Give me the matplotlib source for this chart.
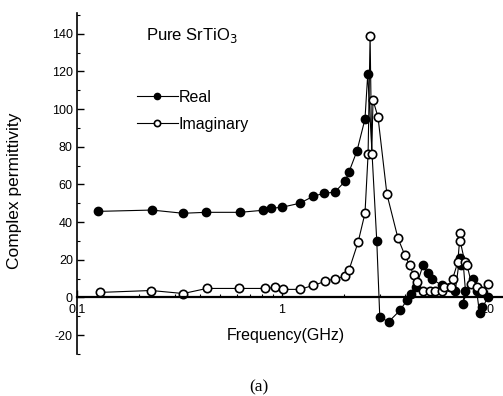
import numpy as np
import matplotlib
matplotlib.use("Agg")
import matplotlib.pyplot as plt
from matplotlib.ticker import FixedLocator, NullFormatter, MultipleLocator

plt.rcParams["font.family"] = ["Liberation Sans", "DejaVu Sans"]
plt.rcParams["axes.unicode_minus"] = False

# real part (filled circles)
real_freq = [0.126, 0.232, 0.329, 0.426, 0.624, 0.81, 0.88, 1.0, 1.22, 1.42,
             1.6, 1.81, 2.03, 2.12, 2.32, 2.54, 2.62, 2.9, 3.0, 3.32,
             3.76, 4.06, 4.26, 4.5, 4.87, 5.15, 5.4, 6.0, 6.6, 7.0,
             7.35, 7.5, 7.65, 7.85, 7.6, 8.5, 8.9, 9.2, 9.5, 10.1]
real_val = [45.7, 46.4, 44.7, 45.2, 45.2, 46.3, 47.3, 47.9, 50.0, 53.7,
            55.3, 55.9, 61.7, 66.5, 77.7, 94.7, 118.6, 29.8, -10.6, -12.8,
            -6.9, -1.6, 2.0, 5.3, 17.0, 12.8, 10.0, 6.4, 5.3, 3.5,
            20.7, 17.0, 18.6, 3.7, -3.2, 10.0, 3.7, -8.5, -5.3, 0.0]

# imaginary part (open circles)
imag_freq = [0.13, 0.23, 0.33, 0.43, 0.62, 0.83, 0.92, 1.01, 1.22, 1.42,
             1.62, 1.81, 2.03, 2.12, 2.35, 2.54, 2.63, 2.69, 2.74, 2.78,
             2.94, 3.25, 3.68, 3.98, 4.2, 4.4, 4.55, 4.87, 5.3, 5.6,
             6.0, 6.2, 6.7, 6.8, 7.2, 7.4, 7.4, 7.8, 8.0, 8.4,
             8.9, 9.5, 10.1]
imag_val = [2.7, 3.7, 2.1, 4.8, 4.8, 4.8, 5.3, 4.3, 4.3, 6.4,
            8.5, 10.0, 11.2, 14.4, 29.3, 44.7, 76.0, 139.0, 76.0, 104.8,
            95.7, 54.8, 31.4, 22.3, 17.0, 11.7, 8.0, 3.7, 3.7, 3.7,
            3.2, 5.3, 5.3, 10.0, 18.6, 34.0, 30.0, 18.6, 17.0, 7.4,
            5.3, 3.7, 7.4]

x_ticks = [0.1, 1, 10]
x_ticklabels = ["0.1", "1", "10"]
y_ticks = [-20, 0, 20, 40, 60, 80, 100, 120, 140]

fig = plt.figure(figsize=(5.03, 3.96), dpi=100)
ax = fig.add_axes([77 / 503, 42 / 396, 426 / 503, 341 / 396])

ax.plot(real_freq, real_val, "-", color="black", lw=0.8, marker="o",
        ms=6, mfc="black", mec="black", label="Real")
ax.plot(imag_freq, imag_val, "-", color="black", lw=0.8, marker="o",
        ms=6, mfc="white", mec="black", mew=1.2, label="Imaginary")

ax.set_xscale("log")
ax.set_xlim(0.1, 11.97)
ax.set_ylim(-30, 151)

for s in ["top", "right"]:
    ax.spines[s].set_visible(False)
ax.spines["bottom"].set_position(("data", 0))
ax.spines["bottom"].set_linewidth(1.6)
ax.spines["left"].set_linewidth(1.2)

ax.xaxis.set_major_locator(FixedLocator(x_ticks))
ax.set_xticklabels(x_ticklabels)
ax.xaxis.set_minor_formatter(NullFormatter())
ax.yaxis.set_major_locator(FixedLocator(y_ticks))
ax.yaxis.set_minor_locator(MultipleLocator(10))
ax.tick_params(axis="both", which="major", direction="in", length=5,
               width=1, labelsize=9)
ax.tick_params(axis="both", which="minor", direction="in", length=2.5, width=0.8)
ax.tick_params(axis="x", which="major", pad=5)
ax.tick_params(axis="y", which="major", pad=3)

ax.set_xlabel("Frequency(GHz)", fontsize=11.5)
ax.xaxis.set_label_coords(0.49, 0.075)
ax.set_ylabel("Complex permittivity", fontsize=12.5)
ax.yaxis.set_label_coords(-0.128, 0.48)

ax.text(0.162, 0.935, "Pure SrTiO$_3$", transform=ax.transAxes, fontsize=12,
        ha="left", va="center")

ax.legend(loc="upper left", bbox_to_anchor=(0.14, 0.775), frameon=False,
          fontsize=11.5, handlelength=2.6, handletextpad=0.05,
          labelspacing=0.75, borderpad=0, borderaxespad=0, markerscale=0.75)

fig.text(259 / 503, 1 - 387 / 396, "(a)", family=["Liberation Serif", "DejaVu Serif"],
         fontsize=12.5, ha="center", va="center")

fig.savefig("out.png", dpi=100)
